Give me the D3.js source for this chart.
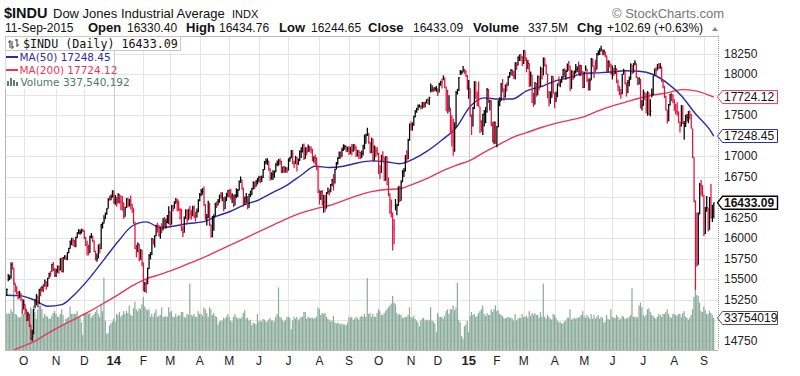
<!DOCTYPE html>
<html>
<head>
<meta charset="utf-8">
<script src="https://cdn.jsdelivr.net/npm/d3@7"></script>
<style>
  body { margin: 0; background: #fff; }
  svg { display: block; font-family: "Liberation Sans", Arial, sans-serif; }
</style>
</head>
<body>
<svg id="chart" width="800" height="376"></svg>
<script>
// month tick labels, one per month from Sep 2013 (partial, unlabeled) to Sep 2015
const monthLabels = ['', 'O', 'N', 'D', '14', 'F', 'M', 'A', 'M', 'J', 'J', 'A', 'S',
  'O', 'N', 'D', '15', 'F', 'M', 'A', 'M', 'J', 'J', 'A', 'S'];

const prevClose = 15326;

// daily closes, grouped by month
const closes = [
  [15301, 15376, 15495, 15530, 15677, 15637, 15451, 15401, 15335, 15273, 15328, 15258, 15130],
  [15192, 15133, 14996, 15073, 14936, 14777, 14803, 15126, 15237, 15301, 15168, 15374, 15372, 15400, 15392, 15468, 15413, 15509, 15570, 15569, 15680, 15619, 15546],
  [15616, 15639, 15618, 15747, 15594, 15762, 15783, 15751, 15822, 15876, 15962, 15976, 15967, 15901, 16010, 16065, 16073, 16073, 16097, 16086],
  [16009, 15915, 15890, 15822, 16020, 16026, 15973, 15844, 15739, 15755, 15885, 15875, 16168, 16179, 16221, 16295, 16358, 16480, 16478, 16504, 16577],
  [16441, 16470, 16425, 16531, 16463, 16445, 16437, 16258, 16374, 16482, 16417, 16459, 16414, 16373, 16197, 15879, 15838, 15929, 15739, 15849, 15699],
  [15373, 15445, 15440, 15629, 15794, 15802, 15995, 15964, 16028, 16154, 16130, 16041, 16133, 16103, 16207, 16180, 16198, 16273, 16322],
  [16168, 16396, 16360, 16422, 16453, 16419, 16351, 16340, 16109, 16066, 16247, 16336, 16222, 16331, 16303, 16277, 16368, 16269, 16264, 16323, 16458],
  [16533, 16573, 16573, 16413, 16246, 16256, 16437, 16170, 16027, 16173, 16263, 16425, 16409, 16449, 16514, 16502, 16502, 16361, 16449, 16535, 16581],
  [16559, 16513, 16531, 16401, 16519, 16551, 16583, 16695, 16715, 16614, 16447, 16491, 16512, 16374, 16533, 16543, 16606, 16676, 16633, 16699, 16717],
  [16744, 16722, 16738, 16836, 16924, 16943, 16946, 16844, 16734, 16776, 16781, 16808, 16907, 16921, 16947, 16937, 16818, 16868, 16846, 16852, 16827],
  [16956, 16976, 17068, 16924, 16907, 16986, 16915, 16944, 17055, 17061, 17138, 16977, 17100, 17052, 17114, 17087, 17084, 16961, 16983, 16912, 16880, 16563],
  [16493, 16569, 16429, 16443, 16368, 16554, 16570, 16561, 16652, 16714, 16663, 16839, 16920, 16979, 17039, 17001, 17077, 17107, 17122, 17080, 17098],
  [17068, 17078, 17070, 17137, 17111, 17014, 17069, 17049, 16988, 17031, 17132, 17157, 17266, 17280, 17173, 17056, 17210, 16946, 17113, 17071, 17043],
  [16805, 16801, 17010, 16992, 16719, 16994, 16659, 16544, 16321, 16315, 16142, 16117, 16380, 16400, 16615, 16461, 16678, 16805, 16818, 17006, 16974, 17195, 17391],
  [17366, 17384, 17485, 17554, 17574, 17614, 17615, 17612, 17653, 17635, 17648, 17688, 17686, 17719, 17810, 17818, 17815, 17828, 17828],
  [17777, 17880, 17913, 17900, 17959, 17852, 17801, 17533, 17596, 17281, 17181, 17069, 17357, 17778, 17805, 17959, 18024, 18030, 18054, 18038, 17983, 17823],
  [17833, 17502, 17372, 17585, 17908, 17737, 17641, 17614, 17427, 17321, 17512, 17515, 17554, 17814, 17673, 17679, 17387, 17191, 17417, 17165],
  [17361, 17666, 17673, 17885, 17824, 17729, 17869, 17862, 17972, 18019, 18048, 18030, 17986, 18140, 18117, 18209, 18225, 18214, 18133],
  [18289, 18203, 18097, 18136, 17857, 17996, 17663, 17635, 17895, 17749, 17977, 17849, 18076, 17959, 18128, 18116, 18011, 17719, 17678, 17713, 17976, 17776],
  [17698, 17763, 17881, 17875, 17903, 17959, 18058, 17977, 18037, 18113, 18106, 17826, 18035, 17950, 18038, 18059, 18080, 18038, 18110, 18036, 17841],
  [18024, 18070, 17928, 17842, 17924, 18191, 18105, 18068, 18060, 18252, 18273, 18299, 18312, 18285, 18286, 18232, 18042, 18163, 18126, 18011],
  [18040, 18012, 18076, 17906, 17849, 17767, 17764, 18000, 18039, 17899, 17791, 17904, 17936, 18116, 18016, 18120, 18144, 17966, 17890, 17947, 17596, 17620],
  [17758, 17730, 17684, 17777, 17515, 17549, 17760, 17978, 18054, 18050, 18120, 18086, 18100, 17919, 17851, 17732, 17569, 17441, 17630, 17751, 17746, 17690],
  [17598, 17551, 17540, 17420, 17373, 17615, 17403, 17403, 17408, 17477, 17545, 17511, 17349, 16991, 16460, 15871, 15666, 16286, 16655, 16643, 16528],
  [16058, 16351, 16375, 16102, 16493, 16254, 16330, 16433]
];

// intraday high minus close
const highAbove = [
  [45, 10, 70, 20, 30, 70, 190, 50, 80, 80, 30, 70, 130],
  [60, 60, 140, 30, 140, 170, 80, 10, 20, 20, 130, 10, 30, 20, 50, 30, 60, 10, 10, 30, 10, 90, 90],
  [10, 30, 50, 10, 170, 10, 10, 40, 10, 10, 10, 30, 40, 80, 10, 10, 40, 30, 20, 30],
  [90, 100, 80, 100, 10, 40, 60, 130, 110, 60, 40, 60, 10, 20, 60, 20, 10, 10, 40, 30, 10],
  [140, 60, 80, 20, 80, 80, 80, 180, 10, 10, 80, 20, 110, 50, 170, 320, 80, 20, 190, 20, 160],
  [330, 20, 60, 10, 10, 30, 10, 30, 10, 10, 60, 120, 10, 80, 40, 80, 40, 10, 70],
  [160, 10, 50, 30, 40, 60, 110, 30, 250, 80, 20, 20, 130, 30, 90, 70, 30, 130, 60, 40, 20],
  [20, 30, 40, 220, 170, 40, 20, 260, 140, 100, 30, 10, 40, 30, 20, 60, 60, 140, 60, 20, 10],
  [40, 90, 20, 130, 20, 60, 20, 10, 40, 100, 170, 20, 40, 140, 10, 40, 10, 20, 60, 10, 20],
  [20, 40, 30, 10, 20, 30, 30, 100, 120, 30, 50, 20, 10, 30, 20, 40, 130, 10, 40, 20, 40],
  [20, 20, 10, 150, 40, 20, 80, 30, 20, 50, 10, 180, 10, 60, 30, 40, 40, 130, 20, 110, 110, 320],
  [100, 10, 160, 90, 160, 10, 50, 40, 10, 10, 120, 10, 10, 10, 20, 60, 30, 40, 20, 50, 20],
  [60, 40, 80, 10, 40, 110, 10, 30, 70, 40, 10, 110, 10, 70, 110, 120, 20, 270, 20, 50, 70],
  [240, 90, 10, 70, 270, 10, 340, 200, 230, 160, 170, 120, 100, 20, 20, 180, 30, 30, 40, 10, 100, 20, 10],
  [60, 30, 10, 10, 20, 20, 20, 10, 10, 30, 20, 10, 20, 10, 80, 50, 30, 20, 30],
  [50, 20, 10, 50, 30, 110, 50, 280, 150, 310, 320, 390, 60, 20, 20, 10, 30, 20, 50, 30, 70, 170],
  [100, 330, 140, 20, 10, 180, 150, 300, 180, 120, 10, 50, 50, 20, 150, 10, 300, 230, 10, 260],
  [10, 20, 50, 10, 120, 100, 10, 40, 10, 10, 20, 30, 60, 10, 30, 10, 20, 40, 90],
  [10, 90, 110, 40, 280, 40, 330, 140, 10, 150, 10, 130, 20, 120, 80, 90, 110, 290, 120, 80, 10, 200],
  [80, 30, 10, 100, 30, 20, 10, 100, 20, 20, 60, 280, 20, 90, 10, 70, 20, 120, 10, 80, 200],
  [10, 40, 140, 110, 30, 10, 90, 40, 120, 10, 20, 20, 40, 20, 20, 50, 190, 10, 40, 120],
  [70, 70, 40, 170, 90, 90, 60, 10, 30, 140, 110, 30, 40, 20, 100, 20, 30, 170, 80, 20, 350, 70],
  [60, 60, 90, 20, 260, 150, 70, 10, 20, 40, 10, 50, 40, 180, 80, 130, 170, 130, 10, 10, 30, 70],
  [100, 90, 120, 130, 50, 10, 220, 30, 100, 40, 10, 50, 170, 350, 530, 590, 650, 30, 20, 70, 120],
  [470, 30, 140, 270, 10, 410, 80, 2]
];

// close minus intraday low
const lowBelow = [
  [40, 80, 20, 40, 170, 20, 20, 60, 20, 20, 60, 20, 50],
  [60, 60, 10, 80, 20, 20, 60, 300, 90, 120, 10, 180, 80, 50, 50, 60, 40, 100, 60, 40, 90, 20, 20],
  [90, 60, 50, 140, 10, 180, 40, 20, 90, 60, 90, 60, 60, 10, 120, 60, 20, 30, 40, 10],
  [20, 10, 100, 30, 200, 30, 20, 10, 10, 40, 130, 60, 300, 60, 40, 60, 70, 120, 20, 40, 80],
  [20, 60, 40, 100, 40, 100, 100, 20, 110, 110, 40, 70, 60, 60, 20, 10, 70, 100, 20, 110, 40],
  [20, 100, 110, 190, 170, 60, 200, 40, 140, 130, 60, 20, 140, 40, 110, 60, 80, 90, 150],
  [40, 230, 30, 60, 30, 90, 20, 110, 20, 50, 180, 100, 40, 110, 60, 50, 100, 20, 60, 70, 140],
  [80, 60, 40, 20, 20, 100, 190, 20, 20, 160, 170, 160, 40, 50, 80, 20, 50, 30, 90, 80, 80],
  [60, 40, 100, 20, 120, 60, 80, 110, 40, 20, 60, 80, 80, 20, 160, 40, 80, 80, 30, 70, 60],
  [60, 50, 50, 100, 90, 40, 50, 20, 30, 60, 70, 70, 100, 40, 60, 40, 20, 70, 50, 50, 30],
  [130, 40, 90, 20, 50, 80, 100, 50, 110, 80, 90, 20, 130, 40, 60, 30, 50, 20, 60, 20, 50, 10],
  [80, 100, 30, 130, 40, 190, 30, 40, 90, 80, 80, 170, 80, 80, 70, 30, 80, 40, 40, 30, 40],
  [50, 50, 60, 80, 40, 20, 70, 80, 20, 50, 120, 70, 110, 30, 20, 20, 170, 10, 170, 80, 30],
  [20, 80, 210, 50, 20, 290, 10, 30, 20, 60, 290, 190, 40, 120, 220, 20, 220, 120, 70, 190, 50, 230, 200],
  [50, 70, 110, 80, 40, 50, 20, 40, 70, 40, 50, 40, 50, 90, 30, 30, 30, 30, 40],
  [40, 100, 50, 70, 30, 20, 250, 10, 50, 10, 60, 60, 300, 420, 50, 160, 30, 30, 30, 30, 10, 10],
  [130, 20, 110, 220, 330, 40, 30, 10, 140, 20, 250, 150, 150, 280, 20, 120, 20, 20, 270, 10],
  [250, 310, 60, 210, 40, 50, 150, 70, 110, 60, 60, 50, 40, 200, 60, 100, 60, 50, 30],
  [160, 40, 70, 70, 10, 140, 10, 30, 260, 20, 230, 40, 230, 20, 140, 20, 10, 10, 70, 70, 260, 10],
  [110, 100, 160, 20, 60, 60, 100, 10, 100, 80, 60, 30, 210, 20, 80, 50, 50, 30, 130, 50, 10],
  [190, 30, 20, 40, 120, 260, 10, 110, 30, 190, 40, 60, 30, 50, 50, 20, 10, 130, 40, 10],
  [100, 30, 70, 10, 50, 20, 60, 240, 40, 20, 60, 130, 80, 180, 10, 100, 30, 10, 20, 70, 10, 60],
  [140, 40, 160, 280, 10, 60, 40, 230, 70, 60, 70, 20, 30, 10, 20, 20, 10, 40, 200, 130, 70, 40],
  [40, 40, 40, 10, 80, 250, 10, 200, 50, 50, 140, 60, 10, 10, 20, 500, 10, 610, 360, 120, 20],
  [30, 300, 50, 20, 390, 10, 130, 188]
];

// daily volume, millions of shares
const volumes = [
  [350, 380, 390, 380, 430, 400, 760, 380, 370, 350, 340, 350, 430],
  [380, 390, 420, 380, 380, 450, 430, 470, 400, 330, 430, 470, 470, 430, 340, 380, 360, 350, 330, 330, 360, 390, 410],
  [380, 350, 350, 380, 430, 370, 280, 330, 340, 350, 460, 380, 380, 380, 380, 410, 350, 350, 290, 160],
  [390, 380, 400, 380, 390, 340, 360, 380, 400, 430, 380, 350, 480, 410, 760, 310, 170, 180, 260, 280, 300],
  [330, 300, 380, 370, 400, 350, 370, 410, 380, 410, 390, 470, 370, 360, 440, 510, 430, 410, 440, 430, 480],
  [560, 460, 430, 420, 430, 350, 380, 350, 390, 430, 350, 360, 370, 450, 350, 350, 360, 350, 450],
  [400, 410, 350, 350, 380, 350, 370, 360, 400, 400, 350, 340, 380, 370, 700, 370, 360, 380, 350, 350, 410],
  [380, 380, 360, 450, 430, 390, 350, 450, 430, 370, 390, 360, 350, 270, 300, 310, 310, 340, 330, 350, 380],
  [350, 310, 300, 350, 380, 350, 330, 340, 330, 350, 390, 420, 330, 340, 310, 320, 260, 290, 280, 270, 380],
  [300, 310, 300, 330, 320, 300, 300, 320, 340, 310, 310, 300, 350, 380, 660, 350, 340, 310, 300, 320, 350],
  [350, 340, 220, 310, 350, 330, 350, 310, 330, 350, 350, 400, 400, 330, 350, 340, 340, 340, 330, 340, 350, 450],
  [430, 370, 390, 380, 390, 350, 330, 320, 300, 310, 360, 290, 280, 290, 280, 270, 280, 270, 270, 260, 290],
  [350, 340, 350, 320, 330, 350, 340, 320, 350, 360, 350, 380, 350, 760, 380, 390, 350, 380, 350, 350, 390],
  [430, 410, 370, 370, 390, 410, 430, 450, 470, 490, 570, 500, 480, 390, 370, 380, 370, 340, 340, 350, 350, 370, 450],
  [350, 340, 360, 330, 310, 290, 250, 310, 330, 340, 310, 320, 310, 320, 450, 310, 300, 280, 190],
  [390, 350, 350, 350, 330, 360, 410, 430, 380, 430, 430, 470, 420, 450, 710, 320, 290, 150, 120, 250, 270, 310],
  [190, 360, 400, 370, 380, 350, 360, 390, 410, 430, 470, 380, 360, 390, 370, 370, 430, 400, 430, 470],
  [410, 420, 380, 370, 360, 340, 330, 340, 350, 340, 340, 330, 310, 380, 310, 330, 340, 340, 380],
  [350, 350, 360, 340, 410, 360, 390, 370, 390, 370, 370, 340, 400, 350, 700, 350, 330, 370, 350, 330, 320, 380],
  [370, 340, 310, 290, 300, 280, 280, 300, 310, 340, 340, 430, 320, 330, 340, 330, 340, 340, 350, 370, 410],
  [360, 340, 370, 350, 330, 380, 330, 370, 330, 350, 370, 330, 350, 340, 290, 300, 370, 330, 320, 430],
  [350, 340, 340, 370, 350, 320, 330, 360, 350, 330, 330, 340, 350, 370, 650, 350, 350, 350, 340, 470, 500, 450],
  [370, 350, 370, 430, 440, 400, 370, 360, 340, 330, 350, 380, 370, 350, 380, 380, 400, 430, 380, 350, 340, 380],
  [380, 370, 360, 380, 380, 350, 390, 410, 350, 340, 320, 340, 370, 430, 560, 700, 580, 570, 500, 410, 400],
  [460, 420, 380, 380, 410, 390, 370, 337.54]
];

// moving averages every ten sessions
const maDays = [0, 10, 20, 30, 40, 50, 60, 70, 80, 90, 100, 110, 120, 130, 140, 150, 160, 170, 180, 190,
  200, 210, 220, 230, 240, 250, 260, 270, 280, 290, 300, 310, 320, 330, 340, 350, 360, 370, 380, 390,
  400, 410, 420, 430, 440, 450, 460, 470, 480, 490, 500, 503];
const ma50 = [15305, 15300, 15250, 15170, 15190, 15330, 15520, 15740, 15960, 16150, 16200, 16130, 16150, 16180, 16200, 16270, 16330, 16410, 16470, 16560,
  16650, 16770, 16880, 16865, 16880, 16920, 16945, 16935, 16910, 16970, 17070, 17200, 17350, 17610, 17715, 17700, 17700, 17800, 17850, 17920,
  17960, 18010, 18020, 18030, 18045, 18040, 18000, 17895, 17740, 17520, 17330, 17248.45];
const ma200 = [14585, 14665, 14735, 14840, 14935, 15020, 15110, 15210, 15310, 15420, 15505, 15560, 15620, 15690, 15760, 15840, 15920, 16000, 16080, 16160,
  16240, 16310, 16360, 16400, 16460, 16520, 16570, 16595, 16605, 16665, 16735, 16820, 16890, 16950, 17050, 17140, 17230, 17290, 17350, 17400,
  17440, 17480, 17550, 17610, 17660, 17710, 17750, 17775, 17815, 17800, 17745, 17724.12];

const priceTicks = [14750, 15000, 15250, 15500, 15750, 16000, 16250, 16500, 16750, 17000, 17250, 17500, 17750, 18000, 18250];

const plot = { left: 5, right: 718, top: 36, bottom: 350 };
const upColor = '#000000';
const downColor = '#e3103c';
const ma50Color = '#2b2ba6';
const ma200Color = '#e8375c';
const volColor = '#8aab9b';

const svg = d3.select('#chart');

// flatten the months into sessions
const days = [];
const monthStarts = [];
let last = prevClose;
closes.forEach((month, m) => {
  monthStarts.push(days.length);
  month.forEach((c, k) => {
    days.push({
      i: days.length,
      close: c,
      high: c + (highAbove[m][k] || 0),
      low: c - (lowBelow[m][k] || 0),
      vol: volumes[m][k] || 0,
      up: c >= last
    });
    last = c;
  });
});

const x = d3.scaleLinear().domain([-0.3, 506]).range([plot.left, plot.right]);
const y = d3.scaleLinear().domain([14636, 18470]).range([plot.bottom, plot.top]);
const v = d3.scaleLinear().domain([0, 337.54]).range([plot.bottom, 318]);

svg.append('rect').attr('width', 800).attr('height', 376).attr('fill', '#fff');

svg.append('defs').append('clipPath').attr('id', 'plot-clip')
  .append('rect')
  .attr('x', plot.left).attr('y', plot.top)
  .attr('width', plot.right - plot.left).attr('height', plot.bottom - plot.top);

// grid
const grid = svg.append('g');
grid.selectAll('.hgrid')
  .data(priceTicks)
  .enter()
  .append('line')
  .attr('x1', plot.left).attr('x2', plot.right)
  .attr('y1', d => Math.round(y(d)) + 0.5).attr('y2', d => Math.round(y(d)) + 0.5)
  .attr('stroke', '#e4e4e4');

const months = monthStarts.map((s, m) => ({ start: s, label: monthLabels[m] })).filter(d => d.label);
grid.selectAll('.vgrid')
  .data(months)
  .enter()
  .append('line')
  .attr('x1', d => Math.round(x(d.start)) + 0.5).attr('x2', d => Math.round(x(d.start)) + 0.5)
  .attr('y1', plot.top).attr('y2', plot.bottom)
  .attr('stroke', d => /\d/.test(d.label) ? '#cdcdcd' : '#e4e4e4');

const body = svg.append('g').attr('clip-path', 'url(#plot-clip)');

// volume
const step = x(1) - x(0);
body.selectAll('.vol')
  .data(days)
  .enter()
  .append('rect')
  .attr('x', d => x(d.i) - step / 2)
  .attr('width', step * 0.85)
  .attr('y', d => v(d.vol))
  .attr('height', d => plot.bottom - v(d.vol))
  .attr('fill', volColor);

// moving averages
const maLine = d3.line()
  .x(d => x(d.i))
  .y(d => y(d.v))
  .curve(d3.curveMonotoneX);

[[ma200, ma200Color], [ma50, ma50Color]].forEach(([series, color]) => {
  body.append('path')
    .datum(maDays.map((d, k) => ({ i: d, v: series[k] })))
    .attr('d', maLine)
    .attr('fill', 'none')
    .attr('stroke', color)
    .attr('stroke-width', 1.4);
});

// price bars
const bars = body.selectAll('.bar')
  .data(days)
  .enter()
  .append('g')
  .attr('stroke', d => d.up ? upColor : downColor);
bars.append('line')
  .attr('x1', d => x(d.i)).attr('x2', d => x(d.i))
  .attr('y1', d => y(d.high)).attr('y2', d => y(d.low))
  .attr('stroke-width', 1.25);
bars.append('line')
  .attr('x1', d => x(d.i)).attr('x2', d => x(d.i) + 1)
  .attr('y1', d => y(d.close)).attr('y2', d => y(d.close))
  .attr('stroke-width', 1);

// frame
svg.append('path')
  .attr('d', `M${plot.right},${plot.top + 0.5}H${plot.left + 0.5}V${plot.bottom + 0.5}H${plot.right}`)
  .attr('fill', 'none')
  .attr('stroke', '#b8b8b8');
svg.append('line')
  .attr('x1', plot.right + 0.5).attr('x2', plot.right + 0.5)
  .attr('y1', plot.top).attr('y2', plot.bottom)
  .attr('stroke', '#999')
  .attr('stroke-dasharray', '1,1');

// right axis labels, hidden where a value marker sits
const lastDay = days[days.length - 1];
const markers = [
  { y: y(ma200[ma200.length - 1]), text: '17724.12', stroke: ma200Color, bold: false },
  { y: y(ma50[ma50.length - 1]), text: '17248.45', stroke: ma50Color, bold: false },
  { y: y(16433.09), text: '16433.09', stroke: '#000', bold: true },
  { y: v(lastDay.vol), text: '33754019', stroke: '#555', bold: false }
];

svg.selectAll('.ytick')
  .data(priceTicks.filter(t => !markers.some(mk => Math.abs(y(t) - mk.y) < 12)))
  .enter()
  .append('text')
  .attr('x', 724)
  .attr('y', d => y(d) + 4)
  .attr('font-size', 12)
  .attr('fill', '#222')
  .text(d => d);

const mk = svg.selectAll('.marker')
  .data(markers)
  .enter()
  .append('g')
  .attr('transform', d => `translate(0,${d.y})`);
mk.append('path')
  .attr('d', 'M717.5,0L722.5,-6.5H777.5V6.5H722.5Z')
  .attr('fill', '#fff')
  .attr('stroke', d => d.stroke)
  .attr('stroke-width', d => d.bold ? 1.4 : 1);
mk.append('text')
  .attr('x', 724)
  .attr('y', 4.2)
  .attr('font-size', 12)
  .attr('font-weight', d => d.bold ? 'bold' : 'normal')
  .attr('fill', '#111')
  .text(d => d.text);

// month labels
svg.selectAll('.xlabel')
  .data(months)
  .enter()
  .append('text')
  .attr('x', d => x(d.start))
  .attr('y', 365)
  .attr('text-anchor', 'middle')
  .attr('font-size', d => /\d/.test(d.label) ? 13 : 12)
  .attr('font-weight', d => /\d/.test(d.label) ? 'bold' : 'normal')
  .attr('fill', '#222')
  .text(d => d.label);

// header
const head = svg.append('g').attr('fill', '#111');
head.append('text').attr('x', 4).attr('y', 18).attr('font-size', 14.5).attr('font-weight', 'bold').text('$INDU');
head.append('text').attr('x', 53).attr('y', 18).attr('font-size', 13).text('Dow Jones Industrial Average');
head.append('text').attr('x', 232).attr('y', 18).attr('font-size', 11).text('INDX');
svg.append('text').attr('x', 612).attr('y', 18).attr('font-size', 13).attr('fill', '#777').text('\u00A9 StockCharts.com');

const stats = [
  ['11-Sep-2015', 5, false], ['Open', 88, true], ['16330.40', 127, false],
  ['High', 186, true], ['16434.76', 219, false], ['Low', 279, true], ['16244.65', 311, false],
  ['Close', 368, true], ['16433.09', 413, false], ['Volume', 473, true], ['337.5M', 528, false],
  ['Chg', 577, true], ['+102.69 (+0.63%)', 607, false]
];
head.selectAll('.stat')
  .data(stats)
  .enter()
  .append('text')
  .attr('x', d => d[1])
  .attr('y', 32)
  .attr('font-size', d => d[2] ? 13 : 12)
  .attr('font-weight', d => d[2] ? 'bold' : 'normal')
  .text(d => d[0]);
svg.append('path').attr('d', 'M712,31L715,27L718,31Z').attr('fill', '#6f8f80');

// legend
const legend = svg.append('g').attr('font-family', '"DejaVu Sans", Verdana, sans-serif').attr('font-size', 10.5);
legend.append('rect').attr('x', 5.5).attr('y', 36.5).attr('width', 175).attr('height', 14).attr('fill', '#fff').attr('stroke', '#c8c8c8');
legend.append('rect').attr('x', 5.5).attr('y', 51).attr('width', 108).attr('height', 38).attr('fill', '#fff');
// bar icon
legend.append('path').attr('d', 'M10,40V48M8,42H10M12,41V49M12,47H14M17,39V47M15,40H17M17,45H19').attr('stroke', '#333').attr('fill', 'none');
legend.append('text').attr('x', 23).attr('y', 48).attr('font-family', '"DejaVu Sans Mono", monospace').attr('font-size', 11.7).attr('fill', '#111').text('$INDU (Daily) 16433.09');
legend.append('line').attr('x1', 6).attr('x2', 18).attr('y1', 57).attr('y2', 57).attr('stroke', ma50Color).attr('stroke-width', 2);
legend.append('text').attr('x', 19.5).attr('y', 61).attr('fill', ma50Color).text('MA(50) 17248.45');
legend.append('line').attr('x1', 6).attr('x2', 18).attr('y1', 70).attr('y2', 70).attr('stroke', ma200Color).attr('stroke-width', 2);
legend.append('text').attr('x', 19.5).attr('y', 74).attr('fill', ma200Color).text('MA(200) 17724.12');
legend.append('path').attr('d', 'M7,86V81H9V86ZM10,86V78H12V86ZM13,86V80H15V86ZM16,86V82H18V86Z').attr('fill', '#5d7f70');
legend.append('text').attr('x', 20.5).attr('y', 86).attr('fill', '#4d7b67').text('Volume 337,540,192');
</script>
</body>
</html>
